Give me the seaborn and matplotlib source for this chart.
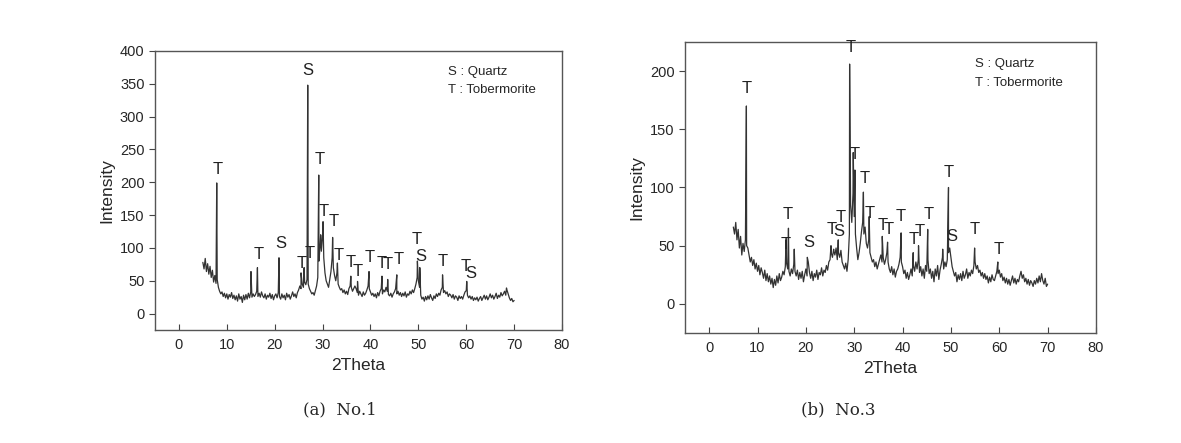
import numpy as np
import pandas as pd
import matplotlib
matplotlib.use("Agg")
import matplotlib.pyplot as plt
import seaborn as sns

# background counts read every 0.25 deg from 5 to 70 (2Theta)
base1 = [78, 68, 84, 64, 76, 60, 72, 55, 66, 48, 58, 46, 52, 40, 34, 30,
         33, 26, 31, 24, 30, 22, 29, 25, 32, 23, 28, 21, 27, 19, 30, 22,
         26, 17, 28, 21, 29, 22, 31, 24, 33, 25, 30, 26, 29, 34, 26, 31,
         25, 33, 27, 24, 30, 22, 28, 25, 31, 23, 29, 21, 27, 30, 24, 32,
         26, 22, 30, 24, 28, 21, 31, 25, 29, 22, 27, 33, 26, 30, 24, 32,
         36, 42, 38, 45, 40, 48, 44, 52, 45, 38, 34, 30, 32, 28, 35, 42,
         55, 80, 105, 95, 120, 85, 62, 50, 45, 40, 52, 64, 85, 70, 58, 50,
         62, 45, 40, 36, 38, 32, 36, 30, 34, 29, 38, 42, 40, 34, 38, 42,
         38, 32, 28, 34, 30, 26, 33, 28, 31, 36, 42, 38, 33, 28, 31, 26,
         30, 24, 32, 27, 34, 38, 30, 36, 33, 40, 34, 29, 27, 31, 25, 30,
         33, 38, 30, 34, 28, 32, 26, 31, 27, 33, 25, 30, 28, 34, 30, 36,
         32, 38, 45, 55, 50, 40, 28, 22, 25, 19, 26, 21, 27, 22, 29, 24,
         20, 27, 23, 30, 26, 31, 28, 36, 40, 32, 35, 30, 33, 26, 30, 28,
         24, 29, 22, 27, 25, 20, 27, 23, 26, 22, 28, 33, 35, 28, 24, 27,
         22, 26, 20, 24, 21, 25, 19, 23, 26, 20, 24, 28, 22, 27, 21, 25,
         30, 24, 28, 22, 26, 31, 23, 28, 25, 32, 27, 30, 34, 28, 36, 30,
         24, 20, 23, 18, 20]
peak_pos1 = [7.9, 15.05, 16.4, 20.9, 25.5, 26.15, 26.9, 29.2, 29.6, 30.1,
             32.1, 33.1, 35.9, 37.3, 39.7, 42.4, 43.6, 45.5, 49.8, 50.3,
             55.05, 60.1, 68.4]
peak_int1 = [199, 64, 70, 85, 62, 70, 348, 211, 120, 140,
             116, 77, 57, 49, 64, 57, 52, 59, 80, 70,
             59, 49, 39]

base2 = [66, 60, 70, 55, 64, 48, 58, 42, 52, 45, 55, 50, 48, 42, 36, 40,
         33, 38, 30, 35, 28, 33, 25, 31, 27, 22, 29, 20, 26, 19, 24, 17,
         22, 14, 21, 16, 24, 18, 26, 20, 23, 28, 25, 32, 35, 30, 28, 24,
         30, 26, 34, 28, 24, 29, 21, 27, 22, 28, 19, 25, 30, 24, 36, 27,
         22, 28, 20, 26, 23, 29, 21, 27, 25, 31, 24, 29, 27, 33, 29, 36,
         38, 44, 40, 47, 42, 48, 38, 44, 40, 46, 36, 33, 30, 35, 28, 38,
         60, 85, 70, 95, 75, 60, 48, 38, 44, 52, 62, 70, 60, 66, 52, 48,
         55, 44, 40, 36, 38, 32, 36, 30, 34, 38, 42, 36, 40, 34, 38, 44,
         36, 30, 27, 32, 25, 30, 23, 28, 30, 34, 40, 36, 32, 26, 29, 22,
         27, 21, 25, 30, 24, 33, 28, 36, 30, 38, 27, 32, 24, 30, 22, 33,
         28, 38, 26, 30, 22, 28, 19, 30, 24, 33, 21, 29, 34, 40, 30, 36,
         32, 38, 44, 48, 40, 32, 28, 24, 27, 19, 25, 21, 26, 20, 28, 22,
         25, 30, 22, 27, 24, 29, 26, 33, 36, 30, 33, 27, 29, 24, 27, 22,
         26, 21, 24, 18, 23, 19, 25, 21, 20, 24, 28, 26, 29, 23, 26, 20,
         23, 18, 22, 17, 21, 16, 20, 24, 18, 22, 17, 21, 19, 24, 28, 22,
         25, 19, 22, 17, 21, 16, 20, 18, 15, 20, 17, 22, 18, 24, 19, 26,
         20, 17, 22, 15, 17]
peak_pos2 = [7.7, 15.9, 16.4, 17.6, 20.3, 25.2, 25.8, 26.7, 29.05, 29.8,
             30.15, 31.9, 33.1, 35.8, 36.9, 39.7, 42.2, 43.3, 45.2, 48.3,
             49.5, 54.9, 59.7]
peak_int2 = [170, 55, 65, 47, 40, 50, 45, 55, 206, 130,
             115, 96, 75, 58, 53, 61, 44, 50, 64, 47,
             100, 48, 36]

# phase marks: letter, 2Theta, intensity
marks1 = [("S", 26.9, 371), ("T", 8.1, 219), ("T", 29.3, 234), ("T", 30.3, 156),
          ("T", 32.3, 140), ("S", 21.3, 106), ("T", 16.6, 90), ("T", 25.7, 77),
          ("T", 27.3, 92), ("T", 33.3, 88), ("T", 35.8, 78), ("T", 37.3, 64),
          ("T", 39.9, 86), ("T", 42.4, 76), ("T", 43.7, 75), ("T", 45.8, 83),
          ("T", 49.7, 113), ("S", 50.5, 87), ("T", 55.1, 80), ("T", 59.9, 72),
          ("S", 61.0, 61)]
marks2 = [("T", 29.2, 220), ("T", 7.7, 185), ("T", 30.2, 128), ("T", 32.1, 108),
          ("T", 33.1, 78), ("T", 16.2, 77), ("T", 15.9, 51), ("S", 20.7, 53),
          ("T", 25.4, 64), ("S", 26.9, 62), ("T", 27.1, 74), ("T", 35.9, 67),
          ("T", 37.1, 64), ("T", 39.7, 75), ("T", 42.2, 55), ("T", 43.5, 62),
          ("T", 45.4, 77), ("T", 49.5, 113), ("S", 50.2, 58), ("T", 54.9, 64),
          ("T", 59.8, 47)]


def pattern(base, pos, inten):
    tt = np.arange(len(base)) * 0.25 + 5.0
    df = pd.concat([pd.DataFrame({"tt": tt, "I": base}),
                    pd.DataFrame({"tt": pos, "I": inten})])
    return df.sort_values("tt").reset_index(drop=True)


sns.set_style("ticks")
plt.rcParams["font.family"] = ["Liberation Sans", "DejaVu Sans"]

fig = plt.figure(figsize=(11.81, 4.43), dpi=100)
ax1 = fig.add_axes([0.1312, 0.2551, 0.3447, 0.6298])
ax2 = fig.add_axes([0.580, 0.2483, 0.348, 0.657])

sets = [(ax1, pattern(base1, peak_pos1, peak_int1), marks1, (-25, 400), np.arange(0, 401, 50), 0.72),
        (ax2, pattern(base2, peak_pos2, peak_int2), marks2, (-25, 225), np.arange(0, 201, 50), 0.705)]

for ax, df, marks, ylim, yt, lx in sets:
    sns.lineplot(data=df, x="tt", y="I", ax=ax, estimator=None, sort=False,
                 color="#333333", linewidth=0.9)
    for lab, x, y in marks:
        ax.text(x, y, lab, ha="center", va="center", fontsize=12, color="#222222")
    ax.text(lx, 0.925, "S : Quartz", transform=ax.transAxes, fontsize=9.5, va="center")
    ax.text(lx, 0.86, "T : Tobermorite", transform=ax.transAxes, fontsize=9.5, va="center")
    ax.set_xlim(-5, 80)
    ax.set_ylim(*ylim)
    ax.set_xticks(np.arange(0, 81, 10))
    ax.set_yticks(yt)
    ax.set_xlabel("2Theta", fontsize=12.5)
    ax.set_ylabel("Intensity", fontsize=12.5)
    ax.tick_params(axis="x", direction="in", length=4, labelsize=10.5, pad=6, color="#444444")
    ax.tick_params(axis="y", direction="out", length=4, labelsize=10.5, color="#444444")
    for s in ax.spines.values():
        s.set_visible(True)
        s.set_color("#555555")
        s.set_linewidth(1.0)

fig.text(0.288, 0.074, "(a)  No.1", ha="center", va="center", fontsize=12, family="DejaVu Serif")
fig.text(0.710, 0.074, "(b)  No.3", ha="center", va="center", fontsize=12, family="DejaVu Serif")

fig.savefig("out.png", dpi=100)
